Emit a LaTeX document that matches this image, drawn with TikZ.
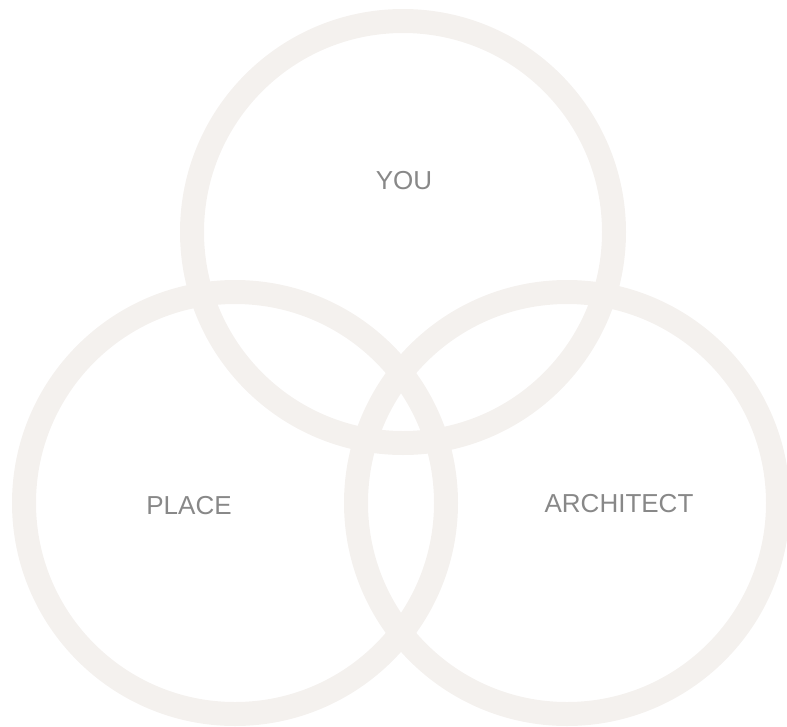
\documentclass[tikz,border=0pt]{standalone}
\usepackage{fontspec}
\setmainfont{Liberation Sans}
\definecolor{ringcol}{RGB}{244,241,238}
\definecolor{textcol}{RGB}{136,136,136}
\begin{document}
\begin{tikzpicture}[x=1pt,y=-1pt,
  ring/.style={circle,draw=ringcol,line width=24pt,minimum size=422pt,inner sep=0pt},
  lbl/.style={text=textcol,font=\fontsize{26}{30}\selectfont,inner sep=0pt}]
\useasboundingbox (0,0) rectangle (787,726);
\node[ring] (you) at (403,232) {};
\node[ring] (place) at (235,503) {};
\node[ring] (arch) at (567,503) {};
\node[lbl] (tyou) at (404,181) {YOU};
\node[lbl] (tplace) at (189,506) {PLACE};
\node[lbl] (tarch) at (619,504) {ARCHITECT};
\end{tikzpicture}
\end{document}
